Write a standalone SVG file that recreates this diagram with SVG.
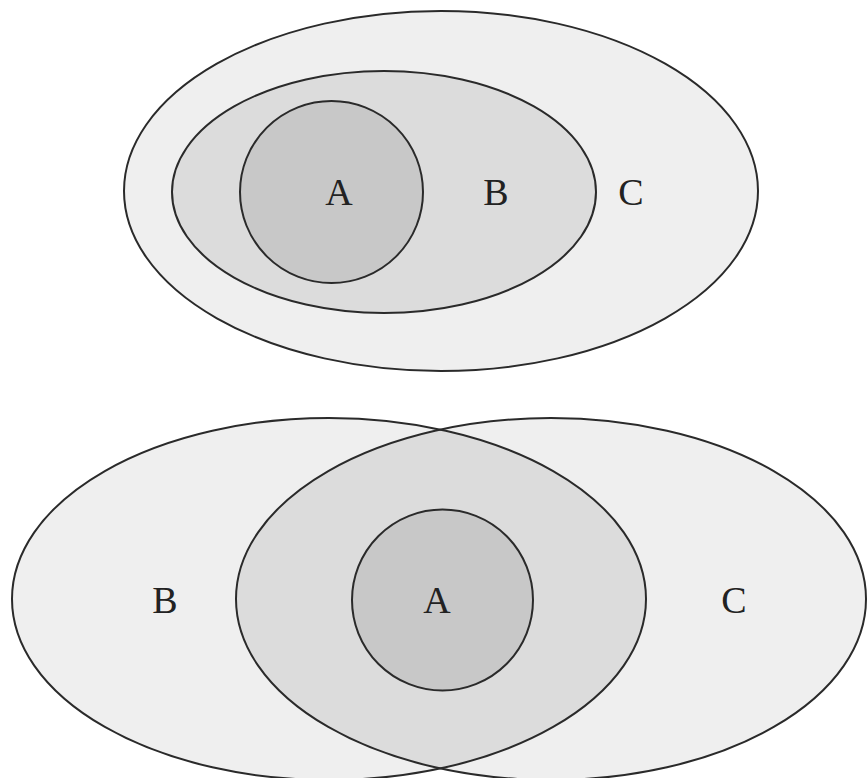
<svg xmlns="http://www.w3.org/2000/svg" width="867" height="778" viewBox="0 0 867 778">
<style>
.s{stroke:#2a2a2a;stroke-width:2}
.c{fill:#efefef}
.b{fill:#dcdcdc}
.a{fill:#c8c8c8}
.n{fill:none}
text{font-family:"Liberation Serif","Times New Roman",serif;font-size:38px;fill:#222;text-anchor:middle;dominant-baseline:central}
</style>
<defs>
<clipPath id="clipB"><ellipse cx="329" cy="599" rx="317" ry="181"/></clipPath>
</defs>
<rect width="867" height="778" fill="#ffffff"/>
<g id="top">
<g id="topC"><ellipse class="c s" cx="441" cy="191" rx="317" ry="180"/><text x="631" y="192">C</text></g>
<g id="topB"><ellipse class="b s" cx="384" cy="192" rx="212" ry="121"/><text x="496" y="192">B</text></g>
<g id="topA"><ellipse class="a s" cx="331.5" cy="192" rx="91.5" ry="91"/><text x="339" y="192">A</text></g>
</g>
<g id="bottom">
<g id="botB"><ellipse class="c" cx="329" cy="599" rx="317" ry="181"/><text x="165" y="600">B</text></g>
<g id="botC"><ellipse class="c" cx="551" cy="599" rx="315" ry="181"/><text x="734" y="600">C</text></g>
<g id="lens"><ellipse class="b" cx="551" cy="599" rx="315" ry="181" clip-path="url(#clipB)"/></g>
<g id="outlines"><ellipse class="n s" cx="329" cy="599" rx="317" ry="181"/><ellipse class="n s" cx="551" cy="599" rx="315" ry="181"/></g>
<g id="botA"><ellipse class="a s" cx="442.5" cy="600" rx="90.5" ry="90.5"/><text x="437" y="600">A</text></g>
</g>
</svg>
